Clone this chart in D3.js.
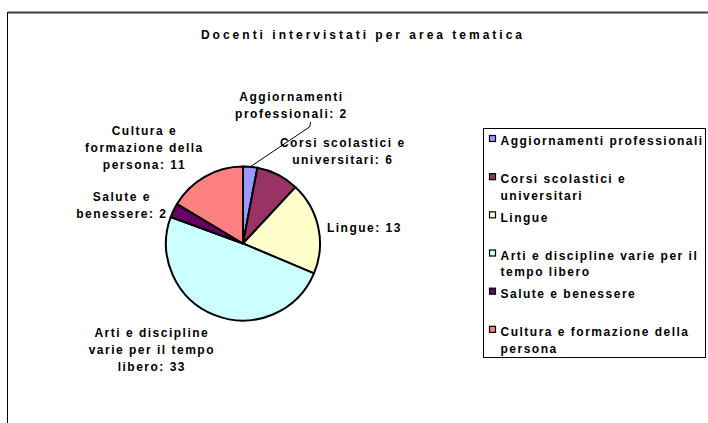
<!DOCTYPE html>
<html>
<head>
<meta charset="utf-8">
<script src="https://cdn.jsdelivr.net/npm/d3@7/dist/d3.min.js"></script>
<style>
	html, body { margin: 0; padding: 0; background: #fff; }
	svg { display: block; }
	text { font-family: Arial, "Liberation Sans", sans-serif; font-weight: bold; fill: #000; }
</style>
</head>
<body>
<div id="chart"></div>
<script>
// jshint esversion: 8

var categories = [
	"Aggiornamenti professionali",
	"Corsi scolastici e universitari",
	"Lingue",
	"Arti e discipline varie per il tempo libero",
	"Salute e benessere",
	"Cultura e formazione della persona"
];
var values = [2, 6, 13, 33, 2, 11];
var colors = ["#9999ff", "#993366", "#ffffcc", "#ccffff", "#660066", "#ff8080"];
var title = "Docenti intervistati per area tematica";

var width = 708, height = 423;
var cx = 243, cy = 243.5, radius = 77;
var fontSize = 12, spacing = 1.5, lineH = 17;

// the small first label was dragged away from the pie in the original
var labelNudge = { "Aggiornamenti professionali": [-14, -35] };

var svg = d3.select("#chart").append("svg")
	.attr("width", width)
	.attr("height", height);

// chart area border (only the top and left edges are inside the picture)
svg.append("line")
	.attr("x1", 7.5).attr("x2", width).attr("y1", 12.5).attr("y2", 12.5)
	.attr("stroke", "#404040").attr("stroke-width", 2);
svg.append("line")
	.attr("x1", 7.5).attr("x2", 7.5).attr("y1", 12).attr("y2", height)
	.attr("stroke", "#000").attr("stroke-width", 1);

svg.append("text")
	.attr("x", 363)
	.attr("y", 35)
	.attr("dy", "0.35em")
	.attr("text-anchor", "middle")
	.attr("font-size", 12)
	.attr("letter-spacing", 3)
	.text(title);

var data = categories.map(function(c, i) {
	return { name: c, value: values[i], fill: colors[i] };
});

var pie = d3.pie().sort(null).value(function(d) { return d.value; });
var arc = d3.arc().innerRadius(0).outerRadius(radius);
var arcs = pie(data);

var g = svg.append("g").attr("transform", "translate(" + cx + "," + cy + ")");

g.selectAll(".slice").data(arcs).enter().append("path")
	.attr("class", "slice")
	.attr("d", arc)
	.attr("fill", function(d) { return d.data.fill; })
	.attr("stroke", "#000")
	.attr("stroke-width", 2)
	.attr("stroke-linejoin", "round");

function measure(str) {
	var t = svg.append("text")
		.attr("font-size", fontSize)
		.attr("letter-spacing", spacing)
		.text(str);
	var w = t.node().getComputedTextLength();
	t.remove();
	return w;
}

function wrap(str, maxWidth) {
	var words = str.split(" ");
	var lines = [];
	var line = words[0];
	for (var i = 1; i < words.length; i++) {
		var test = line + " " + words[i];
		if (measure(test) > maxWidth) {
			lines.push(line);
			line = words[i];
		} else {
			line = test;
		}
	}
	lines.push(line);
	return lines;
}

function clamp(v) { return Math.max(-1, Math.min(1, v)); }

// data labels
arcs.forEach(function(d) {
	var a = (d.startAngle + d.endAngle) / 2;
	var sin = Math.sin(a), cos = Math.cos(a);
	var ax = cx + (radius + 10) * sin;
	var ay = cy - (radius + 10) * cos;

	var lines = wrap(d.data.name + ": " + d.data.value, 132);
	var w = d3.max(lines, measure);
	var h = lines.length * lineH;

	var lx = ax + (sin >= 0 ? 1 : -1) * w / 2 * 0.95;
	var ly = ay - h / 2 * clamp((cos - 0.4) * 1.7);

	var nudge = labelNudge[d.data.name];
	if (nudge) {
		lx += nudge[0];
		ly += nudge[1];
		var bottom = ly + h / 2;
		svg.append("polyline")
			.attr("points", [
				[cx + radius * sin, cy - radius * cos],
				[lx + 19, bottom + 5],
				[lx + 20, bottom]
			].join(" "))
			.attr("fill", "none")
			.attr("stroke", "#000")
			.attr("stroke-width", 1);
	}

	var t = svg.append("text")
		.attr("class", "label")
		.attr("text-anchor", "middle")
		.attr("font-size", fontSize)
		.attr("letter-spacing", spacing);

	lines.forEach(function(s, i) {
		t.append("tspan")
			.attr("x", lx + spacing / 2)
			.attr("y", ly - (lines.length - 1) * lineH / 2 + i * lineH)
			.attr("dy", "0.35em")
			.text(s);
	});
});

// legend
var lx0 = 483, ly0 = 128, lx1 = 705, ly1 = 357;
var legend = svg.append("g").attr("class", "legend");

legend.append("rect")
	.attr("x", lx0 + 0.5).attr("y", ly0 + 0.5)
	.attr("width", lx1 - lx0).attr("height", ly1 - ly0)
	.attr("fill", "#fff")
	.attr("stroke", "#000")
	.attr("stroke-width", 1);

var slot = d3.scaleBand()
	.domain(categories)
	.range([ly0, ly1]);

data.forEach(function(d) {
	var top = slot(d.name) + 13;
	var lines = wrap(d.name, 206);

	legend.append("rect")
		.attr("x", 489.5)
		.attr("y", top - 5.5)
		.attr("width", 6)
		.attr("height", 6)
		.attr("fill", d.fill)
		.attr("stroke", "#000")
		.attr("stroke-width", 1.2);

	var t = legend.append("text")
		.attr("font-size", fontSize)
		.attr("letter-spacing", spacing);

	lines.forEach(function(s, i) {
		t.append("tspan")
			.attr("x", 500.5)
			.attr("y", top + i * 16.5)
			.attr("dy", "0.35em")
			.text(s);
	});
});
</script>
</body>
</html>
